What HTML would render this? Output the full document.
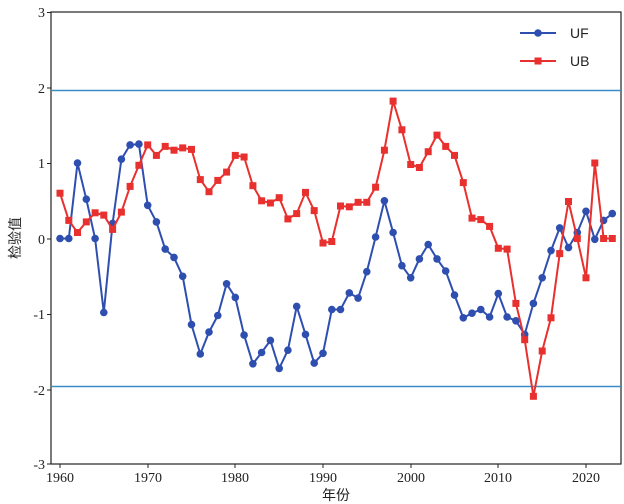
<!DOCTYPE html><html><head><style>body{margin:0;background:#fff}svg{display:block;font-family:"Liberation Sans","Noto Sans CJK SC",sans-serif}.t{font-family:"Liberation Serif","Noto Serif CJK SC",serif}</style></head><body>
<svg id="s" width="624" height="504" xmlns="http://www.w3.org/2000/svg">
<rect x="51" y="12" width="570" height="452" fill="#fff" stroke="#222" stroke-width="1.2"/>
<line x1="51" x2="621" y1="90.5" y2="90.5" stroke="#3a8cc8" stroke-width="1.6"/>
<line x1="51" x2="621" y1="386.5" y2="386.5" stroke="#3a8cc8" stroke-width="1.6"/>
<g stroke="#222" stroke-width="1">
<path d="M60 464v4M148 464v4M235 464v4M323 464v4M411 464v4M498 464v4M586 464v4M47 12.5h4M47 88h4M47 163.5h4M47 239h4M47 314.5h4M47 390h4M47 464h4"/></g>
<g font-size="14" fill="#222" text-anchor="end" class="t">
<text x="45" y="17">3</text><text x="45" y="93">2</text><text x="45" y="168">1</text><text x="45" y="244">0</text><text x="45" y="319">-1</text><text x="45" y="395">-2</text><text x="45" y="469">-3</text></g>
<g font-size="14" fill="#222" text-anchor="middle" class="t">
<text x="60" y="482">1960</text><text x="148" y="482">1970</text><text x="235" y="482">1980</text><text x="323" y="482">1990</text><text x="411" y="482">2000</text><text x="498" y="482">2010</text><text x="586" y="482">2020</text></g>
<g font-size="14" fill="#222" text-anchor="middle">
<text x="336" y="500">年份</text>
<text transform="translate(20,238) rotate(-90)">检验值</text></g>
<g id="d"></g>
<line x1="520" x2="556" y1="33" y2="33" stroke="#2f4fb0" stroke-width="2"/><circle cx="538" cy="33" r="3.8" fill="#2f4fb0"/>
<line x1="520" x2="556" y1="61" y2="61" stroke="#e8302e" stroke-width="2"/><rect x="534.5" y="57.5" width="7" height="7" fill="#e8302e"/>
<text x="570" y="38" font-size="14" fill="#222">UF</text><text x="570" y="66" font-size="14" fill="#222">UB</text>
</svg>
<script>
var uf=[0,0,1.0,0.52,0,-0.98,0.2,1.05,1.24,1.25,0.44,0.22,-0.14,-0.25,-0.5,-1.14,-1.53,-1.24,-1.02,-0.6,-0.78,-1.28,-1.66,-1.51,-1.35,-1.72,-1.48,-0.9,-1.27,-1.65,-1.52,-0.94,-0.94,-0.72,-0.79,-0.44,0.02,0.5,0.08,-0.36,-0.52,-0.27,-0.08,-0.27,-0.43,-0.75,-1.05,-0.99,-0.94,-1.04,-0.73,-1.04,-1.09,-1.27,-0.86,-0.52,-0.16,0.14,-0.12,0.08,0.36,-0.01,0.24,0.33];
var ub=[0.6,0.24,0.08,0.22,0.34,0.31,0.12,0.35,0.69,0.97,1.24,1.1,1.22,1.17,1.2,1.18,0.78,0.62,0.77,0.88,1.1,1.08,0.7,0.5,0.47,0.54,0.26,0.33,0.61,0.37,-0.06,-0.04,0.43,0.42,0.48,0.48,0.68,1.17,1.82,1.44,0.98,0.94,1.15,1.37,1.22,1.1,0.74,0.27,0.25,0.16,-0.13,-0.14,-0.86,-1.34,-2.09,-1.49,-1.05,-0.2,0.49,0.0,-0.52,1.0,0.0,0.0];
function X(i){return 60+i*8.767}function Y(v){return 238.5-v*75.5}
var h='';
function pl(a,c){return '<polyline fill="none" stroke="'+c+'" stroke-width="2" points="'+a.map(function(v,i){return X(i).toFixed(1)+','+Y(v).toFixed(1)}).join(' ')+'"/>'}
h+=pl(uf,'#2f4fb0');
uf.forEach(function(v,i){h+='<circle cx="'+X(i).toFixed(1)+'" cy="'+Y(v).toFixed(1)+'" r="3.8" fill="#2f4fb0"/>'});
h+=pl(ub,'#e8302e');
ub.forEach(function(v,i){h+='<rect x="'+(X(i)-3.5).toFixed(1)+'" y="'+(Y(v)-3.5).toFixed(1)+'" width="7" height="7" fill="#e8302e"/>'});
document.getElementById('d').innerHTML=h;
</script>
</body></html>
